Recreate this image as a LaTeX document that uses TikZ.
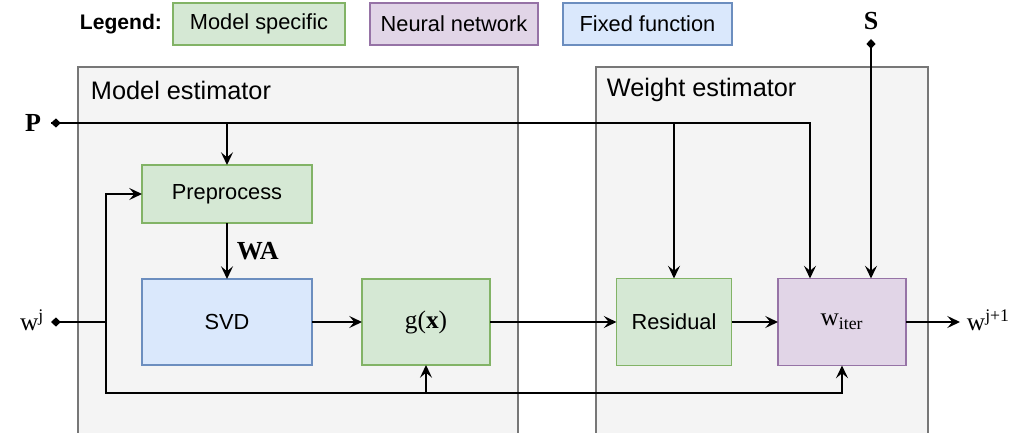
\documentclass[tikz,border=0pt]{standalone}
\usepackage{fontspec}
\setmainfont{Liberation Sans}
\newfontfamily\timesfont{Liberation Serif}
\usetikzlibrary{arrows.meta,calc}

\definecolor{msfill}{HTML}{D5E8D4}
\definecolor{msline}{HTML}{82B366}
\definecolor{nnfill}{HTML}{E1D5E7}
\definecolor{nnline}{HTML}{9673A6}
\definecolor{fffill}{HTML}{DAE8FC}
\definecolor{ffline}{HTML}{6C8EBF}
\definecolor{grpfill}{HTML}{F4F4F4}
\definecolor{grpline}{HTML}{777777}

\tikzset{
  boxtext/.style={font=\fontsize{15.5}{18}\selectfont},
  serifbig/.style={font=\timesfont\fontsize{18}{21}\selectfont},
  serifbold/.style={font=\timesfont\bfseries\fontsize{18.5}{21}\selectfont},
  block/.style={boxtext,line width=0.9pt,inner sep=0pt,outer sep=0pt},
  modelbox/.style={block,draw=msline,fill=msfill},
  netbox/.style={block,draw=nnline,fill=nnfill},
  fixbox/.style={block,draw=ffline,fill=fffill},
  wire/.style={line width=1.3pt},
  flow/.style={wire,-{Stealth[length=9pt,width=8.5pt,inset=3.5pt]}},
  pin/.style={wire,{Diamond[length=7pt,width=6.5pt]}-},
  pinflow/.style={wire,{Diamond[length=7pt,width=6.5pt]}-{Stealth[length=9pt,width=8.5pt,inset=3.5pt]}}
}

\begin{document}
\begin{tikzpicture}[x=0.025cm,y=-0.025cm]
  \useasboundingbox (0,0) rectangle (1012,433);
  \clip (0,0) rectangle (1012,433);

  \node[font=\bfseries\fontsize{15}{18}\selectfont] (legend) at (121,24) {Legend:};
  \node[modelbox,minimum width=4.3cm,minimum height=1.05cm] (lgms) at (259,24) {Model specific};
  \node[netbox,minimum width=4.2cm,minimum height=1.05cm] (lgnn) at (454,24) {Neural network};
  \node[fixbox,minimum width=4.225cm,minimum height=1.05cm] (lgff) at (647.5,24) {Fixed function};

  \draw[draw=grpline,fill=grpfill,line width=0.8pt] (78,67) rectangle (518,450);
  \draw[draw=grpline,fill=grpfill,line width=0.8pt] (596,67) rectangle (928,450);
  \node[font=\fontsize{18}{21}\selectfont,anchor=west] (modlabel) at (86,90) {Model estimator};
  \node[font=\fontsize{18}{21}\selectfont,anchor=west] (wgtlabel) at (602,90) {Weight estimator};

  \node[modelbox,minimum width=4.25cm,minimum height=1.45cm] (prep) at (227,194) {Preprocess};
  \node[fixbox,minimum width=4.25cm,minimum height=2.15cm] (svd) at (227,322) {SVD};
  \node[modelbox,serifbig,minimum width=3.2cm,minimum height=2.15cm] (gx) at (426,322) {g(\textbf{x})};
  \node[modelbox,minimum width=2.875cm,minimum height=2.175cm] (res) at (674,322) {Residual};
  \node[netbox,serifbig,minimum width=3.2cm,minimum height=2.175cm] (witer) at (842,322) {w\textsubscript{iter}};

  \node[serifbold] (P) at (33,123) {P};
  \node[serifbold] (S) at (871,21) {S};
  \node[serifbig] (wj) at (32,320) {w\textsuperscript{j}};
  \node[serifbig,anchor=west] (wout) at (962,320) {w\textsuperscript{j+1}};
  \coordinate (pP) at (51,123);
  \coordinate (pS) at (871,39);
  \coordinate (pW) at (51,322);
  \coordinate (jW) at (106,322);
  \coordinate (jB) at (106,393);
  \coordinate (out) at (960,322);

  \draw[pin] (pP) -- (prep.north |- pP);
  \draw[flow] (pP) -| ($(witer.north)+(-32,0)$);
  \draw[flow] (prep.north |- pP) -- (prep.north);
  \draw[flow] (res.north |- pP) -- (res.north);
  \draw[pinflow] (pS) -- ($(witer.north)+(29,0)$);

  \draw[pin] (pW) -- (jW);
  \draw[flow] (jW) |- (prep.west);
  \draw[flow] (jW) -- (jB) -| (witer.south);
  \draw[flow] (gx.south |- jB) -- (gx.south);

  \draw[flow] (prep) -- node[right=3pt,serifbold] (wa) {WA} (svd);
  \draw[flow] (svd) -- (gx);
  \draw[flow] (gx) -- (res);
  \draw[flow] (res) -- (witer);
  \draw[flow] (witer) -- (out);
\end{tikzpicture}
\end{document}
